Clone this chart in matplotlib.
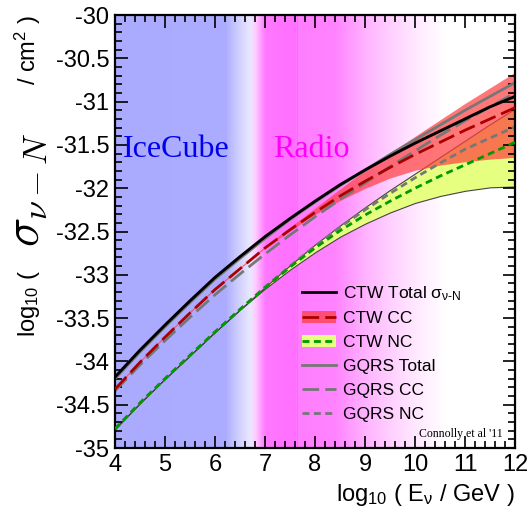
import numpy as np
import matplotlib.pyplot as plt
from matplotlib.lines import Line2D
from matplotlib.patches import Patch
from matplotlib.ticker import MultipleLocator

plt.rcParams['font.family'] = ['Liberation Sans', 'DejaVu Sans']
plt.rcParams['mathtext.fontset'] = 'custom'
plt.rcParams['mathtext.rm'] = 'Liberation Sans'
plt.rcParams['mathtext.it'] = 'Liberation Sans:italic'

# log10(E / GeV)
energy = [4, 4.5, 5, 5.5, 6, 6.5, 7, 7.5, 8, 8.5, 9, 9.5, 10, 10.5, 11, 11.5, 12]

# log10(sigma / cm^2)
ctw_total = [-34.18, -33.87, -33.58, -33.30, -33.03, -32.79, -32.56, -32.35, -32.15,
             -31.96, -31.79, -31.63, -31.48, -31.34, -31.20, -31.06, -30.94]
ctw_cc = [-34.32, -34.01, -33.72, -33.44, -33.17, -32.93, -32.69, -32.48, -32.28,
          -32.09, -31.92, -31.76, -31.61, -31.47, -31.33, -31.20, -31.07]
ctw_cc_hi = [-34.31, -34.00, -33.71, -33.43, -33.16, -32.92, -32.68, -32.46, -32.24,
             -32.02, -31.80, -31.60, -31.41, -31.22, -31.03, -30.85, -30.67]
ctw_cc_lo = [-34.33, -34.02, -33.73, -33.45, -33.18, -32.94, -32.70, -32.50, -32.31,
             -32.15, -32.01, -31.89, -31.80, -31.74, -31.70, -31.67, -31.65]
ctw_nc = [-34.78, -34.48, -34.20, -33.93, -33.66, -33.40, -33.15, -32.91, -32.69,
          -32.49, -32.31, -32.15, -32.00, -31.86, -31.73, -31.60, -31.47]
ctw_nc_hi = [-34.78, -34.48, -34.20, -33.93, -33.66, -33.40, -33.14, -32.89, -32.65,
             -32.43, -32.22, -32.02, -31.83, -31.64, -31.45, -31.26, -31.08]
ctw_nc_lo = [-34.78, -34.48, -34.20, -33.93, -33.66, -33.40, -33.16, -32.94, -32.74,
             -32.56, -32.41, -32.28, -32.17, -32.09, -32.03, -31.99, -31.98]
gqrs_total = [-34.20, -33.89, -33.60, -33.32, -33.05, -32.81, -32.58, -32.36, -32.16,
              -31.97, -31.79, -31.61, -31.44, -31.27, -31.10, -30.94, -30.78]
gqrs_cc = [-34.34, -34.04, -33.76, -33.49, -33.23, -32.99, -32.76, -32.54, -32.33,
           -32.13, -31.94, -31.75, -31.57, -31.39, -31.22, -31.06, -30.90]
gqrs_nc = [-34.78, -34.48, -34.20, -33.93, -33.66, -33.40, -33.14, -32.90, -32.67,
           -32.45, -32.25, -32.06, -31.88, -31.71, -31.55, -31.42, -31.29]

# background shading (IceCube blue -> Radio magenta -> white)
bg_x = [4.0, 6.2, 6.45, 6.7, 6.8, 7.0, 7.6, 7.65, 8.4, 9.0, 9.5, 10.0, 10.6, 12.0]
bg_rgb = [(170, 170, 255), (172, 172, 255), (205, 205, 255), (235, 232, 255),
          (255, 205, 255), (255, 120, 255), (255, 112, 255), (255, 125, 255),
          (255, 132, 255), (255, 178, 255), (255, 208, 255), (255, 232, 255),
          (255, 255, 255), (255, 255, 255)]

long_dash = (6, 2.2)
short_dash = (2.5, 1.6)

fig = plt.figure(figsize=(5.31, 5.23), dpi=100)
ax = fig.add_axes([0.2166, 0.1434, 0.7534, 0.8279])

xs = np.linspace(4, 12, 800)
rgb = np.array(bg_rgb, dtype=float) / 255
grad = np.stack([np.interp(xs, bg_x, rgb[:, k]) for k in range(3)], axis=-1)
ax.imshow(grad[np.newaxis, :, :], extent=[4, 12, -35, -30], aspect='auto', zorder=0)
ax.axvline(7.63, color='#f070f0', lw=0.5, zorder=0.5)

ax.fill_between(energy, ctw_nc_lo, ctw_nc_hi, facecolor='#e6ff80', edgecolor='#444444',
                lw=0.8, zorder=1)
ax.fill_between(energy, ctw_cc_lo, ctw_cc_hi, facecolor=(1, 0.24, 0.24), alpha=0.7,
                lw=0, zorder=1.5)

ax.plot(energy, gqrs_total, color='#777777', lw=2, zorder=2)
ax.plot(energy, gqrs_cc, color='#777777', lw=2, dashes=long_dash, zorder=2)
ax.plot(energy, gqrs_nc, color='#777777', lw=2, dashes=short_dash, zorder=2)
ax.plot(energy, ctw_total, color='black', lw=2.1, zorder=3)
ax.plot(energy, ctw_cc, color='#aa0000', lw=2, dashes=long_dash, zorder=3)
ax.plot(energy, ctw_nc, color='#009900', lw=2, dashes=short_dash, zorder=3)

ax.set_xlim(4, 12)
ax.set_ylim(-35, -30)
ax.xaxis.set_major_locator(MultipleLocator(1))
ax.xaxis.set_minor_locator(MultipleLocator(0.2))
ax.yaxis.set_major_locator(MultipleLocator(0.5))
ax.yaxis.set_minor_locator(MultipleLocator(0.1))
ax.yaxis.set_major_formatter(plt.FuncFormatter(lambda v, p: '%g' % v))
ax.tick_params(which='both', direction='in', top=True, right=True, labelsize=17, width=1.2)
ax.tick_params(which='major', length=9, pad=4)
ax.tick_params(which='minor', length=5)
for s in ax.spines.values():
    s.set_linewidth(1.6)

ax.text(4.15, -31.55, 'IceCube', color='#0000ee', fontsize=23, family='Liberation Serif',
        va='center', ha='left')
ax.text(7.17, -31.55, 'Radio', color='#ff00ff', fontsize=23, family='Liberation Serif',
        va='center', ha='left')
ax.text(11.75, -34.84, "Connolly et al '11", fontsize=8.5, family='Liberation Serif',
        ha='right', va='center')

handles = [
    Line2D([], [], color='black', lw=2),
    (Patch(facecolor=(1, 0.3, 0.45)), Line2D([], [], color='#aa0000', lw=2, dashes=long_dash)),
    (Patch(facecolor='#e6ff80'), Line2D([], [], color='#009900', lw=2, dashes=short_dash)),
    Line2D([], [], color='#777777', lw=2),
    Line2D([], [], color='#777777', lw=2, dashes=long_dash),
    Line2D([], [], color='#777777', lw=2, dashes=short_dash),
]
labels = ['CTW Total σ$_{\\mathregular{ν\\text{-}N}}$', 'CTW CC', 'CTW NC',
          'GQRS Total', 'GQRS CC', 'GQRS NC']
ax.legend(handles, labels, loc='upper left', bbox_to_anchor=(0.45, 0.395), frameon=False,
          fontsize=12.5, handlelength=1.95, handletextpad=0.4, labelspacing=0.5,
          borderaxespad=0)

# y label in three pieces
fig.text(0.055, 1 - 303 / 523, 'log$_{10}$ (', rotation=90, fontsize=17, ha='center', va='center')
fig.text(0.05, 1 - 190 / 523, r'$\sigma_{\nu - N}$', rotation=90, fontsize=35,
         ha='center', va='center', math_fontfamily='cm')
fig.text(0.052, 1 - 50 / 523, '/ cm$^2$ )', rotation=90, fontsize=17, ha='center', va='center')

fig.text(515 / 531, 1 - 495 / 523, 'log$_{10}$ ( E$_{\\mathregular{ν}}$ / GeV )', fontsize=17,
         ha='right', va='center')

fig.savefig('out.png', dpi=100)
